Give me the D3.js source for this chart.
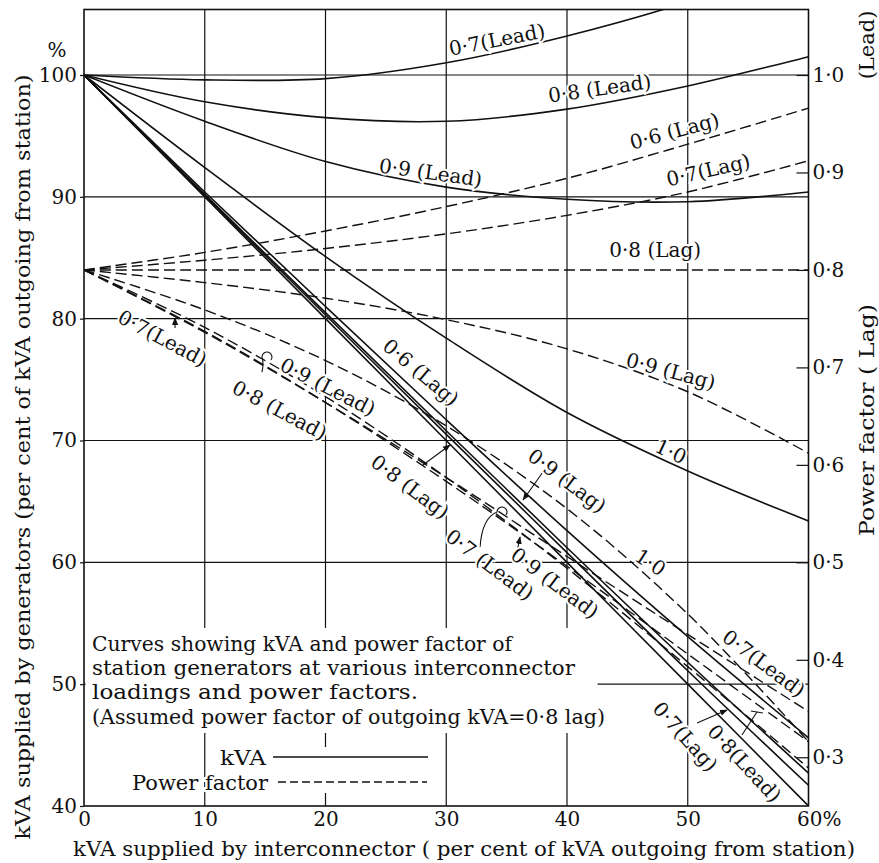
<!DOCTYPE html>
<html>
<head>
<meta charset="utf-8">
<script src="https://cdn.jsdelivr.net/npm/d3@7"></script>
<style>
body { margin: 0; background: #fff; }
svg text { font-family: "DejaVu Serif", "Liberation Serif", serif; fill: #111; }
</style>
</head>
<body>
<svg id="chart" width="879" height="863"></svg>
<script>
/*global d3*/

// interconnector load, % of outgoing kVA
var xPct = [0, 10, 20, 30, 40, 50, 60];

// generator kVA (% of outgoing), one list per interconnector power factor
var kvaLead07 = [100, 99.6, 99.7, 101.0, 103.2, 106.0, 109.5];
var kvaLead08 = [100, 97.8, 96.5, 96.2, 97.2, 99.1, 101.5];
var kvaLead09 = [100, 96.2, 92.9, 90.8, 89.8, 89.6, 90.4];
var kvaUnity  = [100, 92.4, 85.1, 78.4, 72.3, 67.5, 63.4];
var kvaLag09  = [100, 90.2, 80.5, 70.8, 61.2, 51.8, 42.7];
var kvaLag08  = [100, 90.0, 80.0, 70.0, 60.0, 50.0, 40.0];
var kvaLag07  = [100, 90.1, 80.3, 70.5, 60.8, 51.1, 41.7];
var kvaLag06  = [100, 90.4, 81.0, 71.7, 62.6, 53.9, 45.6];

// generator power factor (right scale)
var pfLag06  = [0.80, 0.818, 0.840, 0.865, 0.894, 0.929, 0.966];
var pfLag07  = [0.80, 0.810, 0.822, 0.837, 0.856, 0.880, 0.912];
var pfLag08  = [0.80, 0.800, 0.800, 0.800, 0.800, 0.800, 0.800];
var pfLag09  = [0.80, 0.787, 0.771, 0.749, 0.719, 0.675, 0.612];
var pfUnity  = [0.80, 0.759, 0.707, 0.640, 0.555, 0.447, 0.316];
var pfLead09 = [0.80, 0.741, 0.670, 0.587, 0.494, 0.393, 0.289];
var pfLead08 = [0.80, 0.737, 0.664, 0.583, 0.496, 0.406, 0.316];
var pfLead07 = [0.80, 0.736, 0.664, 0.587, 0.506, 0.426, 0.347];

var kvaSeries = [kvaLead07, kvaLead08, kvaLead09, kvaUnity, kvaLag09, kvaLag08, kvaLag07, kvaLag06];
var pfSeries = [pfLag06, pfLag07, pfLag08, pfLag09, pfUnity, pfLead09, pfLead08, pfLead07];

var leftTicks = [40, 50, 60, 70, 80, 90, 100];
var bottomTicks = [0, 10, 20, 30, 40, 50, 60];
var pfTicks = [0.3, 0.4, 0.5, 0.6, 0.7, 0.8, 0.9, 1.0];
var gridX = [10, 20, 30, 40, 50];
var gridY = [50, 60, 70, 80, 90, 100];

// curve labels: text, x (%), y (left scale %), angle
var curveLabels = [
    ["0·7(Lead)", 34.2, 102.9, -11],
    ["0·8 (Lead)", 42.7, 98.9, -8],
    ["0·9 (Lead)", 28.7, 92.0, 8],
    ["0·6 (Lag)", 48.9, 95.4, -15],
    ["0·7(Lag)", 51.7, 92.2, -13],
    ["0·8 (Lag)", 47.3, 85.6, 0],
    ["0·9 (Lag)", 48.6, 75.7, 15],
    ["1·0", 48.6, 69.1, 25],
    ["0·7(Lead)", 6.5, 78.4, 28],
    ["0·8 (Lead)", 16.2, 72.5, 28],
    ["0·9 (Lead)", 20.2, 74.4, 27],
    ["0·6 (Lag)", 27.9, 75.6, 40],
    ["0·8 (Lag)", 27.0, 66.2, 37],
    ["0·9 (Lag)", 40.0, 66.7, 37],
    ["0·7 (Lead)", 33.6, 59.8, 37],
    ["0·9 (Lead)", 39.0, 58.3, 37],
    ["1·0", 46.9, 60.0, 33],
    ["0·7(Lead)", 56.3, 51.7, 37],
    ["0·7(Lag)", 49.8, 45.7, 48],
    ["0·8(Lead)", 54.7, 43.5, 47]
];

// leader lines: x1, y1, x2, y2, end style
var leaders = [
    [28.07, 67.99, 30.31, 69.63, "arrow"],
    [38.01, 67.41, 36.36, 65.12, "arrow"],
    [32.80, 61.26, 34.20, 64.13, "loop"],
    [35.86, 60.85, 36.11, 62.08, "arrow"],
    [50.77, 46.81, 53.25, 47.88, "arrow"],
    [54.49, 45.83, 55.73, 47.71, "bar"],
    [14.74, 75.62, 14.74, 76.85, "loop"],
    [7.54, 79.23, 7.54, 80.05, "arrow"]
];

var blockLines = [
    "Curves showing kVA and power factor of",
    "station generators at various interconnector",
    "loadings and power factors.",
    "(Assumed power factor of outgoing kVA=0·8 lag)"
];
var blockWidths = [420, 483, 326, 513];

var W = 879, H = 863;
var plotLeft = 84, plotRight = 808.5, plotTop = 9.5, plotBottom = 806;
var ink = "#111";
var serif = '"DejaVu Serif", "Liberation Serif", serif';

var svg = d3.select("#chart");
var x = d3.scaleLinear().domain([0, 60]).range([plotLeft, plotRight]);
var y = d3.scaleLinear().domain([40, 100]).range([plotBottom, 75]);
var yPf = d3.scaleLinear().domain([0.25, 1.0]).range([plotBottom, 75]);

svg.append("rect").attr("width", W).attr("height", H).attr("fill", "#fff");

var defs = svg.append("defs");
defs.append("clipPath").attr("id", "plotClip").append("rect")
    .attr("x", plotLeft).attr("y", plotTop)
    .attr("width", plotRight - plotLeft).attr("height", plotBottom - plotTop);
defs.append("marker").attr("id", "arrow")
    .attr("viewBox", "0 0 10 10").attr("refX", 9).attr("refY", 5)
    .attr("markerWidth", 7).attr("markerHeight", 7).attr("orient", "auto")
    .append("path").attr("d", "M0,1L10,5L0,9z").attr("fill", ink);

// grid
var grid = svg.append("g").attr("stroke", ink).attr("stroke-width", 1.2);
grid.selectAll("line.v").data(gridX).enter().append("line").attr("class", "v")
    .attr("x1", function(d) { return x(d); }).attr("x2", function(d) { return x(d); })
    .attr("y1", plotTop).attr("y2", plotBottom);
grid.selectAll("line.h").data(gridY).enter().append("line").attr("class", "h")
    .attr("y1", function(d) { return y(d); }).attr("y2", function(d) { return y(d); })
    .attr("x1", plotLeft).attr("x2", plotRight);

// blank areas behind the note and the key
svg.append("rect").attr("x", plotLeft + 1.5).attr("y", 628).attr("width", 596 - plotLeft).attr("height", 105).attr("fill", "#fff");
svg.append("rect").attr("x", 272).attr("y", 747).attr("width", 160).attr("height", 46).attr("fill", "#fff");

// curves
var kvaLine = d3.line()
    .x(function(d, i) { return x(xPct[i]); })
    .y(function(d) { return y(d); })
    .curve(d3.curveCatmullRom);
var pfLine = d3.line()
    .x(function(d, i) { return x(xPct[i]); })
    .y(function(d) { return yPf(d); })
    .curve(d3.curveCatmullRom);

var curves = svg.append("g").attr("clip-path", "url(#plotClip)").attr("fill", "none").attr("stroke", ink);
curves.selectAll("path.kva").data(kvaSeries).enter().append("path").attr("class", "kva")
    .attr("d", kvaLine).attr("stroke-width", 1.6);
curves.selectAll("path.pf").data(pfSeries).enter().append("path").attr("class", "pf")
    .attr("d", pfLine).attr("stroke-width", 1.4).attr("stroke-dasharray", "11,5");

// axes
function styleAxis(g, size) {
    g.select(".domain").remove();
    g.attr("font-family", serif).attr("font-size", size);
    g.selectAll("line").attr("stroke", ink).attr("stroke-width", 1.2);
    g.selectAll("text").attr("fill", ink);
}

var leftAxis = svg.append("g").attr("transform", "translate(" + plotLeft + ",0)")
    .call(d3.axisLeft(y).tickValues(leftTicks).tickSize(4).tickPadding(3));
styleAxis(leftAxis, 20);

var bottomAxis = svg.append("g").attr("transform", "translate(0," + plotBottom + ")")
    .call(d3.axisBottom(x).tickValues(bottomTicks).tickSize(0).tickPadding(6)
        .tickFormat(function(d) { return d === 60 ? "60%" : d; }));
styleAxis(bottomAxis, 20);
bottomAxis.selectAll(".tick text").filter(function(d) { return d === 60; })
    .attr("text-anchor", "start").attr("x", -12);

var rightAxis = svg.append("g").attr("transform", "translate(" + plotRight + ",0)")
    .call(d3.axisRight(yPf).tickValues(pfTicks).tickSize(-12).tickPadding(4)
        .tickFormat(function(d) { return d3.format(".1f")(d).replace(".", "·"); }));
styleAxis(rightAxis, 20);

// frame
svg.append("rect").attr("x", plotLeft).attr("y", plotTop)
    .attr("width", plotRight - plotLeft).attr("height", plotBottom - plotTop)
    .attr("fill", "none").attr("stroke", ink).attr("stroke-width", 1.6);

// leaders
var lead = svg.append("g").attr("stroke", ink).attr("stroke-width", 1.1).attr("fill", "none");
leaders.forEach(function(l) {
    var x1 = x(l[0]), y1 = y(l[1]), x2 = x(l[2]), y2 = y(l[3]);
    if (l[4] === "loop") {
        lead.append("path").attr("d", "M" + x1 + "," + y1 + "Q" + (x1 + 2) + "," + (y2 + 6) + " " + x2 + "," + y2 +
            "a5,5 0 1,1 9,3");
    } else {
        var p = lead.append("line").attr("x1", x1).attr("y1", y1).attr("x2", x2).attr("y2", y2);
        if (l[4] === "arrow") p.attr("marker-end", "url(#arrow)");
        if (l[4] === "bar") {
            lead.append("line").attr("x1", x2 - 6).attr("y1", y2 - 1).attr("x2", x2 + 6).attr("y2", y2 + 1);
        }
    }
});

// curve labels
svg.append("g").selectAll("text").data(curveLabels).enter().append("text")
    .attr("transform", function(d) { return "translate(" + x(d[1]) + "," + y(d[2]) + ") rotate(" + d[3] + ")"; })
    .attr("text-anchor", "middle").attr("dy", "0.35em")
    .attr("font-size", 20)
    .attr("stroke", "#fff").attr("stroke-width", 4).attr("paint-order", "stroke")
    .text(function(d) { return d[0]; });

// note
svg.append("g").selectAll("text").data(blockLines).enter().append("text")
    .attr("x", 92).attr("y", function(d, i) { return 651 + i * 24.2; })
    .attr("font-size", 21)
    .attr("textLength", function(d, i) { return blockWidths[i]; })
    .attr("lengthAdjust", "spacingAndGlyphs")
    .text(function(d) { return d; });

// key
svg.append("text").attr("x", 266).attr("y", 765).attr("text-anchor", "end").attr("font-size", 21)
    .attr("textLength", 46).attr("lengthAdjust", "spacingAndGlyphs").text("kVA");
svg.append("text").attr("x", 268).attr("y", 790).attr("text-anchor", "end").attr("font-size", 21)
    .attr("textLength", 136).attr("lengthAdjust", "spacingAndGlyphs")
    .attr("stroke", "#fff").attr("stroke-width", 4).attr("paint-order", "stroke").text("Power factor");
svg.append("line").attr("x1", 273).attr("x2", 428).attr("y1", 757).attr("y2", 757)
    .attr("stroke", ink).attr("stroke-width", 1.6);
svg.append("line").attr("x1", 278).attr("x2", 427).attr("y1", 782).attr("y2", 782)
    .attr("stroke", ink).attr("stroke-width", 1.4).attr("stroke-dasharray", "8,4");

// axis titles
svg.append("text").attr("x", 57).attr("y", 57).attr("text-anchor", "middle").attr("font-size", 20).text("%");
svg.append("text").attr("transform", "translate(30,457) rotate(-90)").attr("text-anchor", "middle")
    .attr("font-size", 21).attr("textLength", 765).attr("lengthAdjust", "spacingAndGlyphs")
    .text("kVA supplied by generators  (per cent of kVA outgoing from station)");
svg.append("text").attr("x", 464).attr("y", 856).attr("text-anchor", "middle")
    .attr("font-size", 21).attr("textLength", 782).attr("lengthAdjust", "spacingAndGlyphs")
    .text("kVA supplied by interconnector ( per cent of kVA outgoing from station)");
svg.append("text").attr("transform", "translate(874,420) rotate(-90)").attr("text-anchor", "middle")
    .attr("font-size", 21).attr("textLength", 232).attr("lengthAdjust", "spacingAndGlyphs")
    .text("Power factor ( Lag)");
svg.append("text").attr("transform", "translate(874,45) rotate(-90)").attr("text-anchor", "middle")
    .attr("font-size", 21).text("(Lead)");
</script>
</body>
</html>
